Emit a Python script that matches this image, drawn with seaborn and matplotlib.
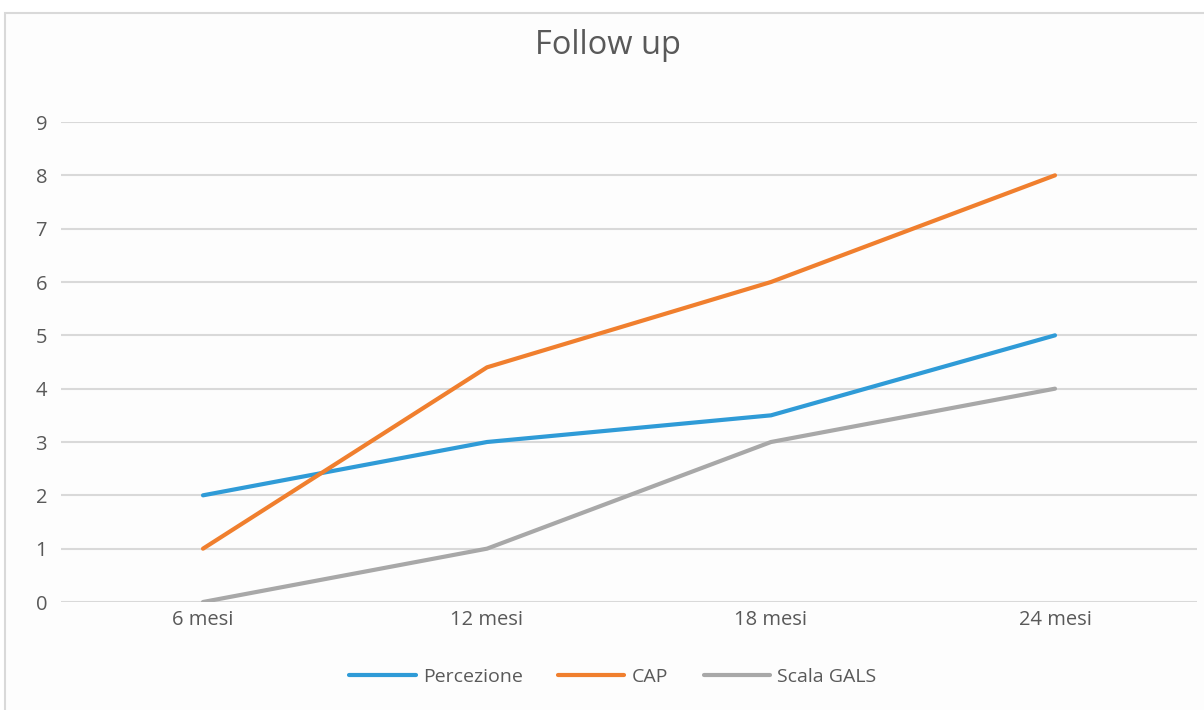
import matplotlib
matplotlib.use("Agg")
import matplotlib.pyplot as plt
from matplotlib.patches import Rectangle
import seaborn as sns
import pandas as pd

# Follow-up scores per time point
periods = ["6 mesi", "12 mesi", "18 mesi", "24 mesi"]
percezione = [2, 3, 3.5, 5]
cap = [1, 4.4, 6, 8]
scala_gals = [0, 1, 3, 4]
series_names = ["Percezione", "CAP", "Scala GALS"]
y_ticks = list(range(0, 10))

colors = {"Percezione": "#2F9BD7", "CAP": "#F07F2E", "Scala GALS": "#A8A8A8"}

df = pd.DataFrame({
    "periodo": periods * 3,
    "pos": list(range(len(periods))) * 3,
    "valore": percezione + cap + scala_gals,
    "serie": [s for s in series_names for _ in periods],
})

sns.set_theme(style="white")
plt.rcParams["font.family"] = ["Open Sans", "DejaVu Sans"]

fig = plt.figure(figsize=(12.04, 7.10), dpi=100)
fig.patch.set_facecolor("white")

# chart frame
fig.add_artist(Rectangle((5 / 1204, -0.01), 1.02, 1 - 13 / 710 + 0.01,
                         transform=fig.transFigure, facecolor="#FDFDFD",
                         edgecolor="#D9D9D9", linewidth=1.5, zorder=-5))

ax = fig.add_axes([61 / 1204, 1 - 602 / 710, (1197 - 61) / 1204, (602 - 122) / 710])
ax.set_facecolor("none")

sns.lineplot(data=df, x="pos", y="valore", hue="serie", palette=colors,
             hue_order=series_names, linewidth=3.0, ax=ax, legend=False,
             zorder=3)

ax.set_xlim(-0.5, len(periods) - 0.5)
ax.set_ylim(0, 9)
ax.set_xticks(range(len(periods)))
ax.set_xticklabels(periods)
ax.set_yticks(y_ticks)
ax.grid(axis="y", color="#D9D9D9", linewidth=1.5, zorder=0)
ax.grid(axis="x", visible=False)
for s in ax.spines.values():
    s.set_visible(False)
ax.tick_params(axis="both", length=0, labelsize=14.5, colors="#595959")
ax.tick_params(axis="y", pad=10)
ax.tick_params(axis="x", pad=6)
ax.set_xlabel("")
ax.set_ylabel("")

fig.text(608 / 1204, 1 - 45 / 710, "Follow up", ha="center", va="center",
         fontsize=23.5, color="#595959")

handles = [plt.Line2D([], [], color=colors[n], linewidth=3.0) for n in series_names]
fig.legend(handles, series_names, loc="center", bbox_to_anchor=(613 / 1204, 1 - 677 / 710),
           ncol=3, frameon=False, fontsize=14, labelcolor="#595959",
           handlelength=3.4, handletextpad=0.4, columnspacing=1.8)

fig.savefig("out.png", dpi=100)
